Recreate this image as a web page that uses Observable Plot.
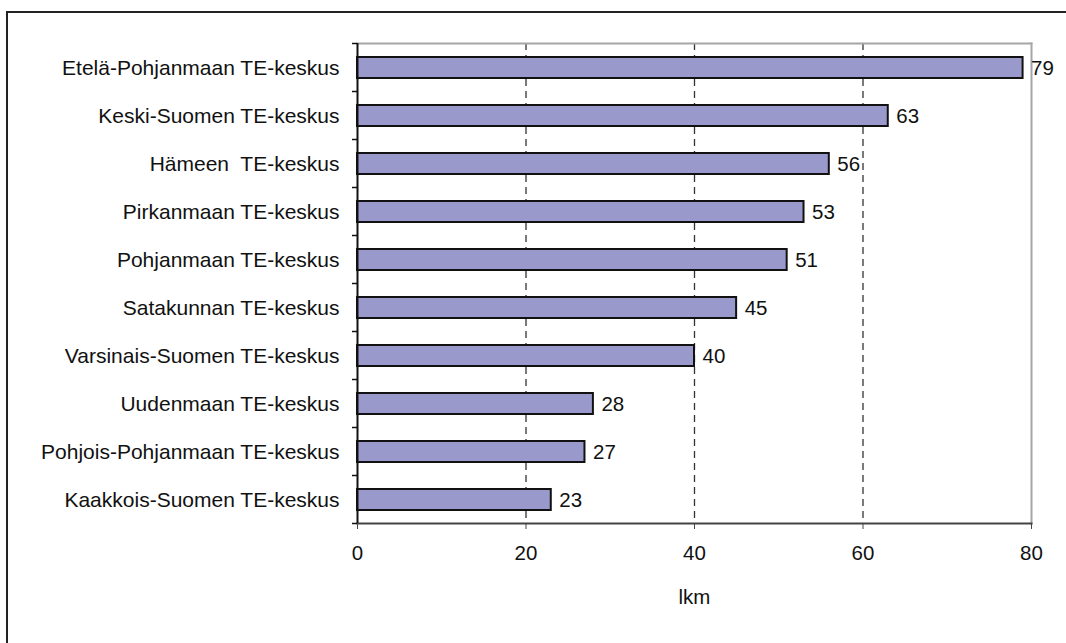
<!DOCTYPE html>
<html><head><meta charset="utf-8">
<script src="https://cdn.jsdelivr.net/npm/d3@7"></script>
<script src="https://cdn.jsdelivr.net/npm/@observablehq/plot@0.6"></script>
<style>
html,body{margin:0;padding:0;background:#fff;overflow:hidden;}
#chart{position:absolute;left:0;top:0;width:1066px;height:643px;overflow:hidden;}
#chart svg{display:block;}
svg text{white-space:pre;}
</style></head>
<body><div id="chart"></div>
<script>
const categories = [
  "Etelä-Pohjanmaan TE-keskus",
  "Keski-Suomen TE-keskus",
  "Hämeen  TE-keskus",
  "Pirkanmaan TE-keskus",
  "Pohjanmaan TE-keskus",
  "Satakunnan TE-keskus",
  "Varsinais-Suomen TE-keskus",
  "Uudenmaan TE-keskus",
  "Pohjois-Pohjanmaan TE-keskus",
  "Kaakkois-Suomen TE-keskus"
];
const values = [79, 63, 56, 53, 51, 45, 40, 28, 27, 23];
const xTicks = [0, 20, 40, 60, 80];
const gridValues = [20, 40, 60];
const xLabel = "lkm";

const data = categories.map((c, i) => ({region: c, value: values[i]}));

const chart = Plot.plot({
  width: 1066,
  height: 643,
  marginLeft: 357,
  marginRight: 35,
  marginTop: 43,
  marginBottom: 120,
  style: {fontFamily: "'Liberation Sans', Arial, sans-serif", fontSize: "20.5px", color: "#111", background: "#fff", maxWidth: "none"},
  x: {domain: [0, 80]},
  y: {domain: categories, paddingInner: 0.57, paddingOuter: 0.285},
  marks: [
    Plot.ruleX(gridValues, {stroke: "#333", strokeDasharray: "7,5", strokeWidth: 1.3}),
    Plot.frame({anchor: "top", stroke: "#a6a6a6", strokeWidth: 2}),
    Plot.frame({anchor: "right", stroke: "#a6a6a6", strokeWidth: 2}),
    Plot.barX(data, {x: "value", y: "region", fill: "#9999cc", stroke: "#111", strokeWidth: 2}),
    Plot.text(data, {x: "value", y: "region", text: d => String(d.value), textAnchor: "start", dx: 8, fill: "#111"}),
    Plot.frame({anchor: "bottom", stroke: "#444", strokeWidth: 2}),
    Plot.ruleX([0], {stroke: "#111", strokeWidth: 2}),
    Plot.axisX({ticks: xTicks, tickSize: 6, tickPadding: 16, label: null, stroke: "#444"}),
    Plot.axisY({tickSize: 0, tickPadding: 18, label: null, fontSize: 21}),
    Plot.text([xLabel], {frameAnchor: "bottom", dy: 80, text: d => d, fill: "#111"})
  ]
});

// ticks on the y axis at the band boundaries, from the plot's own y scale
const ys = chart.scale("y");
const step = ys.step ?? (ys.bandwidth / (1 - 0.57));
const gap = step - ys.bandwidth;
const bounds = categories.map(c => ys.apply(c) - gap / 2);
bounds.push(bounds[bounds.length - 1] + step);
d3.select(chart).append("g")
  .attr("stroke", "#111").attr("stroke-width", 1.5)
  .selectAll("line").data(bounds).join("line")
  .attr("x1", 357 - 5).attr("x2", 357)
  .attr("y1", d => d).attr("y2", d => d);

// outer chart-area border (left and top edges; right and bottom run off the picture)
d3.select(chart).append("path")
  .attr("fill", "none").attr("stroke", "#222").attr("stroke-width", 2)
  .attr("d", "M1100,12H7V700");

document.getElementById("chart").appendChild(chart);
</script>
</body></html>
